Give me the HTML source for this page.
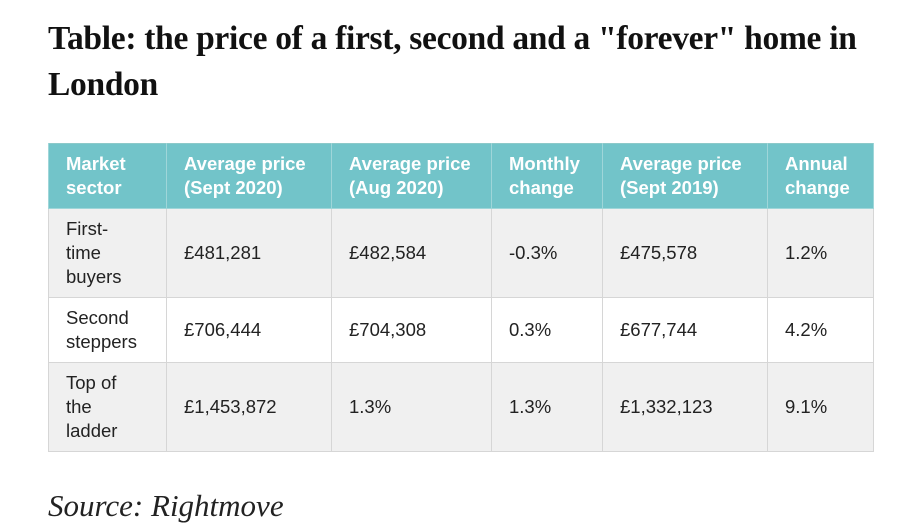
<!DOCTYPE html>
<html><head><meta charset="utf-8"><style>
body{margin:0;width:917px;height:529px;background:#fff;position:relative;overflow:hidden;font-family:"Liberation Sans",sans-serif}
.t{position:absolute;left:48px;top:16px;font:bold 33.5px/46px "Liberation Serif",serif;color:#111;white-space:nowrap;letter-spacing:-0.3px}
.s{position:absolute;left:48px;top:486px;font:italic 31px/40px "Liberation Serif",serif;color:#222}
table{position:absolute;left:48px;top:143px;width:825px;table-layout:fixed;border-collapse:collapse;border:1px solid #8cc9c9;font-size:18.5px;color:#222}
td,th{border:1px solid #d6d6d6;padding:0 0 0 17px;text-align:left;vertical-align:middle;line-height:24px;overflow:hidden}
th{background:#72c4c9;color:#fff;font-weight:bold;height:64px;border-color:#9fd6d9;border-top:none;white-space:nowrap}
tr.g td{background:#f0f0f0}
</style></head><body>
<div class="t">Table: the price of a first, second and a "forever" home in<br>London</div>
<table>
<colgroup><col style="width:118px"><col style="width:165px"><col style="width:160px"><col style="width:111px"><col style="width:165px"><col style="width:106px"></colgroup>
<tr><th>Market<br>sector</th><th>Average price<br>(Sept 2020)</th><th>Average price<br>(Aug 2020)</th><th>Monthly<br>change</th><th>Average price<br>(Sept 2019)</th><th>Annual<br>change</th></tr>
<tr class="g" style="height:89px"><td>First-<br>time<br>buyers</td><td>£481,281</td><td>£482,584</td><td>-0.3%</td><td>£475,578</td><td>1.2%</td></tr>
<tr style="height:65px"><td>Second<br>steppers</td><td>£706,444</td><td>£704,308</td><td>0.3%</td><td>£677,744</td><td>4.2%</td></tr>
<tr class="g" style="height:89px"><td>Top of<br>the<br>ladder</td><td>£1,453,872</td><td>1.3%</td><td>1.3%</td><td>£1,332,123</td><td>9.1%</td></tr>
</table>
<div class="s">Source: Rightmove</div>
</body></html>
